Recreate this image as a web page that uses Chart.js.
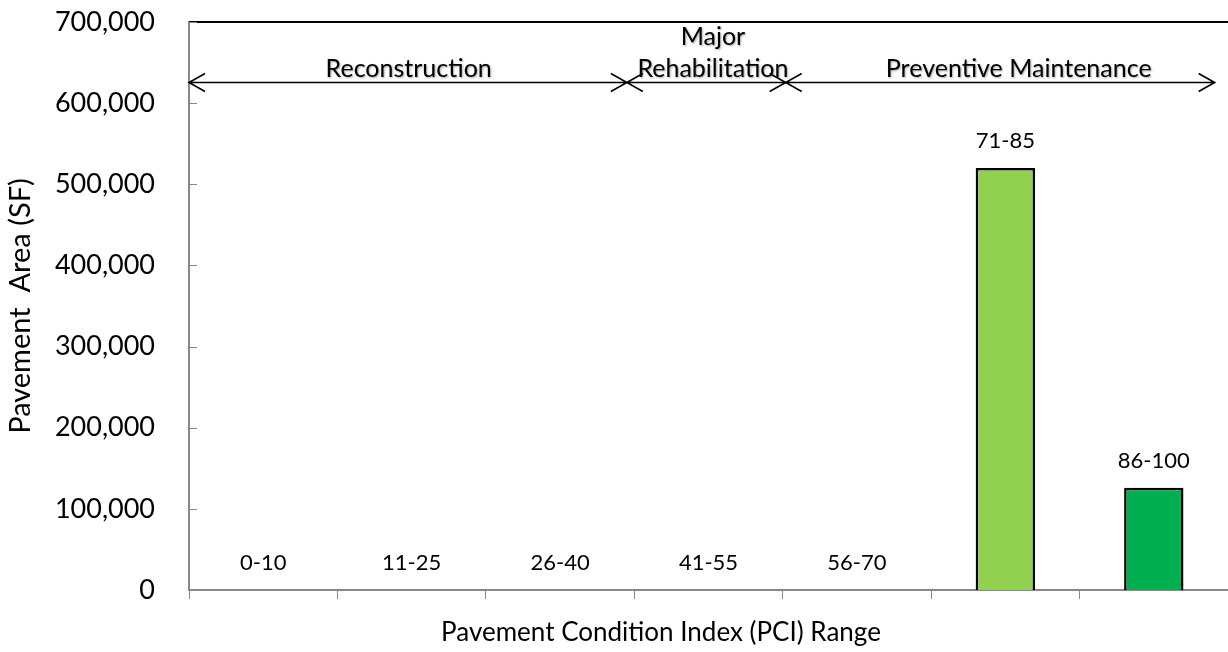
<!DOCTYPE html>
<html>
<head>
<meta charset="utf-8">
<script src="https://cdn.jsdelivr.net/npm/chart.js@4/dist/chart.umd.min.js"></script>
<style>
  html, body { margin: 0; padding: 0; background: #fff; }
  #wrap { width: 1228px; height: 652px; }
</style>
</head>
<body>
<div id="wrap"><canvas id="pci-chart"></canvas></div>
<script>
// PCI ranges and pavement area per range
const categories = ['0-10', '11-25', '26-40', '41-55', '56-70', '71-85', '86-100'];
const areaValues = [0, 0, 0, 0, 0, 520000, 126000];
const barColors = ['#92D050', '#92D050', '#92D050', '#92D050', '#92D050', '#92D050', '#00B050'];
const yTicks = [0, 100000, 200000, 300000, 400000, 500000, 600000, 700000];

// Treatment bands drawn as arrows above the bars (category index units)
const bandNames = [['Reconstruction'], ['Major', 'Rehabilitation'], ['Preventive Maintenance']];
const bandEdges = [-0.5, 2.45, 3.52, 6.41];
const bandLabelAt = [0.98, 3.03, 5.09];
const bandLevel = 626000;

const xTitle = 'Pavement Condition Index (PCI) Range';
const FONT = 'Lato, "Open Sans", sans-serif';

const annotations = {
    id: 'annotations',
    afterDatasetsDraw(chart) {
        const ctx = chart.ctx;
        const x = chart.scales.x, y = chart.scales.y;
        const area = chart.chartArea;

        ctx.save();
        // top border of plot
        ctx.strokeStyle = '#000';
        ctx.lineWidth = 2;
        ctx.beginPath();
        ctx.moveTo(area.left, area.top);
        ctx.lineTo(area.right, area.top);
        ctx.stroke();

        // inward y tick marks
        ctx.strokeStyle = '#888';
        ctx.lineWidth = 1;
        yTicks.forEach(v => {
            const py = Math.round(y.getPixelForValue(v)) + 0.5;
            ctx.beginPath();
            ctx.moveTo(area.left, py);
            ctx.lineTo(area.left + 8, py);
            ctx.stroke();
        });

        // category labels above each bar
        ctx.fillStyle = '#000';
        ctx.font = '22px ' + FONT;
        ctx.textAlign = 'center';
        ctx.textBaseline = 'middle';
        const meta = chart.getDatasetMeta(0);
        meta.data.forEach((bar, i) => {
            ctx.fillText(categories[i], bar.x, bar.y - 27);
        });

        // x axis title (sits a little left of centre in the original)
        ctx.font = '26px ' + FONT;
        ctx.fillText(xTitle, x.getPixelForValue(2.68), chart.height - 19);

        // band arrows
        const ay = Math.round(y.getPixelForValue(bandLevel)) + 0.5;
        ctx.strokeStyle = '#000';
        ctx.lineWidth = 1.6;
        for (let i = 0; i < bandNames.length; i++) {
            const x1 = x.getPixelForValue(bandEdges[i]);
            const x2 = x.getPixelForValue(bandEdges[i + 1]);
            ctx.beginPath();
            ctx.moveTo(x1, ay);
            ctx.lineTo(x2, ay);
            ctx.moveTo(x1 + 16, ay - 9);
            ctx.lineTo(x1, ay);
            ctx.lineTo(x1 + 16, ay + 9);
            ctx.moveTo(x2 - 16, ay - 9);
            ctx.lineTo(x2, ay);
            ctx.lineTo(x2 - 16, ay + 9);
            ctx.stroke();
        }

        ctx.font = '25px ' + FONT;
        ctx.shadowColor = 'rgba(0,0,0,0.35)';
        ctx.shadowBlur = 2;
        ctx.shadowOffsetX = 1;
        ctx.shadowOffsetY = 1;
        bandNames.forEach((lines, i) => {
            const lx = x.getPixelForValue(bandLabelAt[i]);
            lines.forEach((txt, j) => {
                const ly = ay - 14 - (lines.length - 1 - j) * 32;
                ctx.fillText(txt, lx, ly);
            });
        });
        ctx.restore();
    }
};

new Chart(document.getElementById('pci-chart'), {
    type: 'bar',
    data: {
        labels: categories,
        datasets: [{
            data: areaValues,
            backgroundColor: barColors,
            borderColor: '#000',
            borderWidth: 2.5,
            borderSkipped: 'bottom',
            barPercentage: 0.4,
            categoryPercentage: 1.0
        }]
    },
    options: {
        responsive: true,
        maintainAspectRatio: false,
        animation: false,
        layout: { padding: 0 },
        plugins: {
            legend: { display: false },
            tooltip: { enabled: false }
        },
        scales: {
            x: {
                grid: {
                    display: true,
                    drawOnChartArea: false,
                    drawTicks: true,
                    tickLength: 9,
                    color: '#888',
                    offset: true
                },
                border: { display: true, color: '#888', width: 2 },
                ticks: { display: false },
                afterFit: (scale) => { scale.height = 62; }
            },
            y: {
                min: 0,
                max: 700000,
                afterBuildTicks: (scale) => { scale.ticks = yTicks.map(v => ({ value: v })); },
                grid: { display: false, drawTicks: false },
                border: { display: true, color: '#888', width: 2 },
                ticks: {
                    padding: 34,
                    color: '#000',
                    font: { family: FONT, size: 27 },
                    callback: (v) => Number(v).toLocaleString('en-US')
                },
                title: {
                    display: true,
                    text: 'Pavement  Area (SF)',
                    font: { family: FONT, size: 29 },
                    color: '#000',
                    padding: { top: 3, bottom: 0 }
                },
                afterFit: (scale) => {
                    scale.width = 189;
                    scale.paddingTop = 22;
                    scale.paddingBottom = 0;
                }
            }
        }
    },
    plugins: [annotations]
});
</script>
</body>
</html>
